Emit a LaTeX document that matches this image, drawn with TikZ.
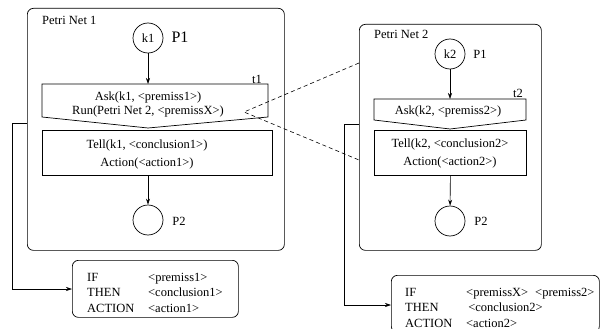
\documentclass[tikz,border=0pt]{standalone}
\usepackage{fontspec}
\setmainfont{Liberation Serif}
\usetikzlibrary{arrows.meta,calc}
\begin{document}
\begin{tikzpicture}[x=1pt,y=-1pt,
  every node/.style={font=\fontsize{12.5}{14}\selectfont, inner sep=0pt},
  netbox/.style={draw, rounded corners=6pt, line width=0.7pt},
  place/.style={draw, circle, minimum size=30pt, inner sep=0pt, line width=0.7pt},
  trans/.style={draw, line width=0.7pt},
  actbox/.style={draw, line width=0.7pt, inner sep=0pt},
  rulebox/.style={draw, rounded corners=6pt, line width=0.7pt, inner sep=0pt},
  ruletext/.style={anchor=base west, font=\fontsize{12.5}{15.5}\selectfont},
  acttext/.style={align=center, font=\fontsize{12.5}{18}\selectfont},
  arr/.style={-{Stealth[length=6pt,width=4pt]}, line width=0.6pt},
  dashlink/.style={dash pattern=on 4pt off 3pt, line width=0.6pt},
]
\useasboundingbox (0,0) rectangle (600,329);

% ---------- Petri Net 1 ----------
\node[netbox, minimum width=257pt, minimum height=242pt, anchor=north west] (net1) at (27,8) {};
\node[anchor=west] (net1t) at (42,20) {Petri Net 1};
\node[place] (k1) at (148,38) {k1};
\node[font=\fontsize{16}{18}\selectfont] (p1a) at (180,37) {P1};
\draw[trans] (42,84) -- (268,84) -- (268,117) -- (148,128) -- (42,117) -- cycle;
\coordinate (t1in) at (148,84);
\node (t1l) at (257,79) {t1};
\node[align=center] (t1txt) at (148,104) {Ask(k1, <premiss1>)\\Run(Petri Net 2, <premissX>)};
\node[actbox, minimum width=230pt, minimum height=45pt, anchor=north west] (a1) at (42,130) {};
\node[acttext] (a1txt) at (147,154) {Tell(k1, <conclusion1>)\\Action(<action1>)};
\node[place] (p2a) at (148,220) {};
\node (p2al) at (179,221) {P2};
\draw[arr] (k1) -- (t1in);
\draw[arr] (k1 |- a1.south) -- (p2a);

% ---------- Rule 1 ----------
\node[rulebox, minimum width=166pt, minimum height=57pt, anchor=north west] (r1) at (72,260) {};
\node[ruletext] (r1txt) at (87,281) {\begin{tabular}[t]{@{}p{61pt}@{}l@{}}IF & <premiss1>\\ THEN & <conclusion1>\\ ACTION & <action1>\end{tabular}};
\coordinate (c1s) at (net1.west |- 0,123);
\draw[arr] (c1s) -- ++(-15,0) |- (r1.west |- 0,289);

% ---------- Petri Net 2 ----------
\node[netbox, minimum width=182pt, minimum height=226pt, anchor=north west] (net2) at (359,24) {};
\node[anchor=west] (net2t) at (374,34) {Petri Net 2};
\node[place] (k2) at (450,54) {k2};
\node (p1b) at (480,54) {P1};
\draw[trans] (374,99) -- (526,99) -- (526,120) -- (450,129) -- (374,120) -- cycle;
\coordinate (t2in) at (450,99);
\node (t2l) at (518,93) {t2};
\node (t2txt) at (448,111) {Ask(k2, <premiss2>)};
\node[actbox, minimum width=152pt, minimum height=45pt, anchor=north west] (a2) at (374,130) {};
\node[acttext] (a2txt) at (450,153) {Tell(k2, <conclusion2>\\Action(<action2>)};
\node[place] (p2b) at (450,221) {};
\node (p2bl) at (481,221) {P2};
\draw[arr] (k2) -- (t2in);
\draw[arr] (a2.south) -- (p2b);

% ---------- Rule 2 ----------
\node[rulebox, minimum width=208pt, minimum height=57pt, anchor=north west] (r2) at (391,275) {};
\node[ruletext] (r2txt) at (405,296) {\begin{tabular}[t]{@{}p{61pt}@{}l@{}}IF & <premissX>\hspace{7pt}<premiss2>\\ THEN & \,<conclusion2>\\ ACTION & <action2>\end{tabular}};
\coordinate (c2s) at (net2.west |- 0,124);
\draw[arr] (c2s) -- ++(-15,0) |- (r2.west |- 0,305);

% ---------- call links ----------
\coordinate (runpt) at (244,112);
\draw[dashlink] (net2.west |- 0,63) -- (runpt) -- (net2.west |- 0,160);
\end{tikzpicture}
\end{document}
